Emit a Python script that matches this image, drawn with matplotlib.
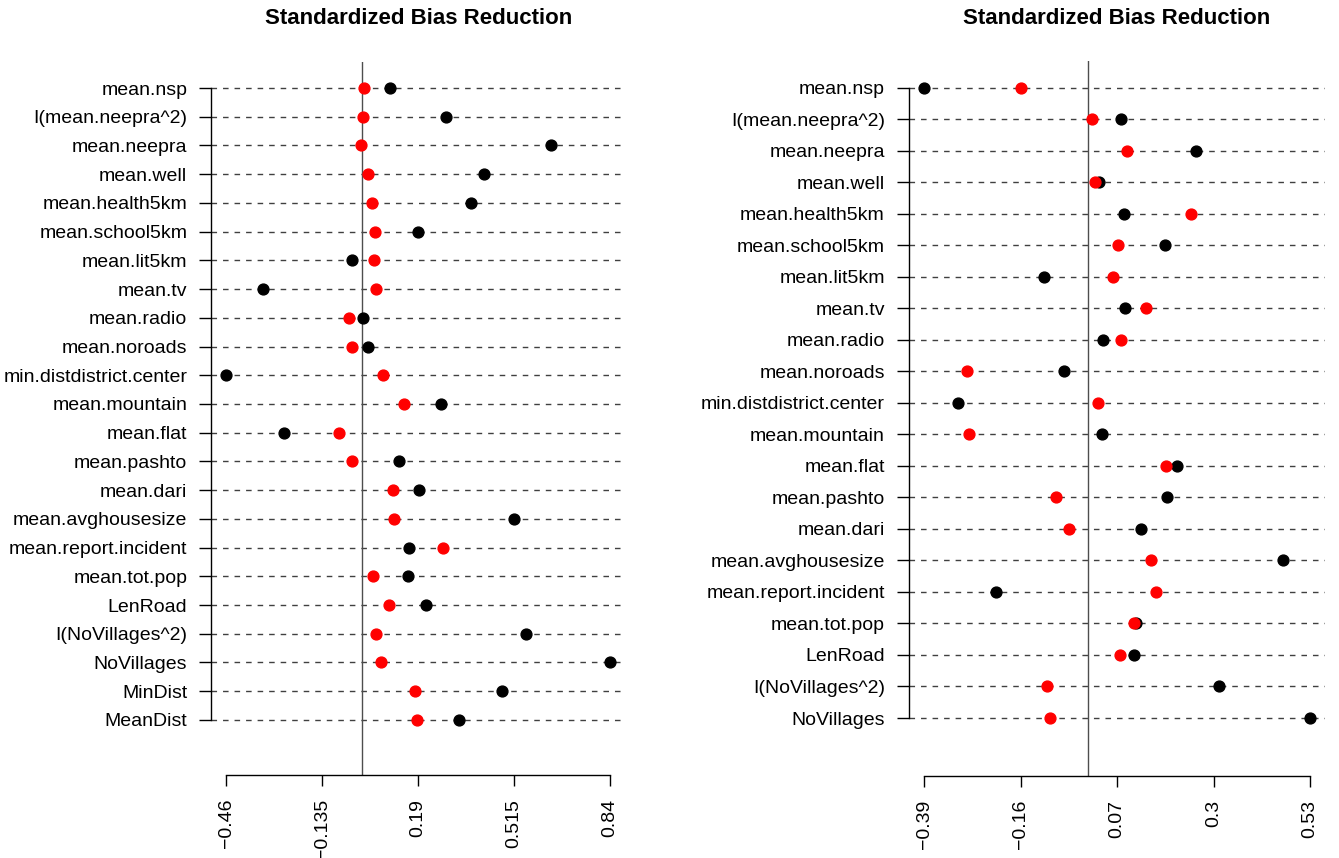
import matplotlib.pyplot as plt
import numpy as np

plt.rcParams['font.family'] = ['Liberation Sans', 'DejaVu Sans']
plt.rcParams['lines.scale_dashes'] = False

# Подписи переменных (сверху вниз)
labels_left = ['mean.nsp', 'I(mean.neepra^2)', 'mean.neepra', 'mean.well',
               'mean.health5km', 'mean.school5km', 'mean.lit5km', 'mean.tv',
               'mean.radio', 'mean.noroads', 'min.distdistrict.center',
               'mean.mountain', 'mean.flat', 'mean.pashto', 'mean.dari',
               'mean.avghousesize', 'mean.report.incident', 'mean.tot.pop',
               'LenRoad', 'I(NoVillages^2)', 'NoVillages', 'MinDist', 'MeanDist']
# До сопоставления (чёрные) и после (красные)
before_left = [0.095, 0.283, 0.640, 0.412, 0.368, 0.188, -0.035, -0.337,
               0.003, 0.019, -0.46, 0.267, -0.266, 0.126, 0.192, 0.514,
               0.160, 0.156, 0.217, 0.554, 0.84, 0.475, 0.329]
after_left = [0.0075, 0.002, -0.005, 0.019, 0.035, 0.043, 0.041, 0.046,
              -0.044, -0.033, 0.071, 0.142, -0.079, -0.033, 0.104, 0.108,
              0.275, 0.038, 0.091, 0.047, 0.064, 0.180, 0.186]

labels_right = ['mean.nsp', 'I(mean.neepra^2)', 'mean.neepra', 'mean.well',
                'mean.health5km', 'mean.school5km', 'mean.lit5km', 'mean.tv',
                'mean.radio', 'mean.noroads', 'min.distdistrict.center',
                'mean.mountain', 'mean.flat', 'mean.pashto', 'mean.dari',
                'mean.avghousesize', 'mean.report.incident', 'mean.tot.pop',
                'LenRoad', 'I(NoVillages^2)', 'NoVillages']
before_right = [-0.39, 0.080, 0.257, 0.027, 0.087, 0.184, -0.105, 0.089,
                0.036, -0.056, -0.308, 0.035, 0.213, 0.189, 0.128, 0.466,
                -0.219, 0.116, 0.110, 0.314, 0.53]
after_right = [-0.159, 0.0095, 0.094, 0.017, 0.247, 0.072, 0.060, 0.138,
               0.080, -0.288, 0.024, -0.283, 0.187, -0.075, -0.045, 0.151,
               0.162, 0.111, 0.077, -0.096, -0.091]


def dot_panel(ax, labels, before, after):
    n = len(labels)
    y = np.arange(n, 0, -1)
    allv = np.array(before + after)
    lo, hi = allv.min(), allv.max()
    pad = 0.04 * (hi - lo)
    ax.set_xlim(lo - pad, hi + pad)
    ax.set_ylim(-0.04 * n, 1.04 * n)
    # пунктирные линии по строкам
    for yy in y:
        ax.plot([lo - pad, hi + pad], [yy, yy], color='0.25', lw=1.0,
                dashes=(4, 4.3), zorder=1)
    ax.axvline(0, color='0.3', lw=1.0, zorder=1)
    ax.plot(before, y, 'o', color='black', ms=7.8, zorder=3)
    ax.plot(after, y, 'o', color='red', ms=7.8, zorder=4)

    for s in ['top', 'right']:
        ax.spines[s].set_visible(False)
    ax.spines['left'].set_bounds(1, n)
    ax.spines['left'].set_linewidth(1.0)
    ax.spines['bottom'].set_bounds(lo, hi)
    ax.spines['bottom'].set_linewidth(1.0)

    ax.set_yticks(y)
    ax.set_yticklabels(labels, fontsize=14)
    ticks = np.linspace(lo, hi, 5)
    ax.set_xticks(ticks)
    ax.set_xticklabels([('%g' % round(t, 3)).replace('-', '\u2212')
                        for t in ticks], rotation=90, fontsize=14)
    ax.tick_params(axis='y', length=8.6, width=1.0, pad=8.5)
    ax.tick_params(axis='x', length=8, width=1.0, pad=9)
    ax.set_title('Standardized Bias Reduction', fontsize=16,
                 fontweight='bold', pad=27)


fig = plt.figure(figsize=(13.39, 8.58), dpi=100)
ax1 = fig.add_axes([0.1576, 0.0967, 0.3094, 0.8315])
ax2 = fig.add_axes([0.6786, 0.0956, 0.3113, 0.8328])
dot_panel(ax1, labels_left, before_left, after_left)
dot_panel(ax2, labels_right, before_right, after_right)

plt.savefig('out.png', dpi=100)
